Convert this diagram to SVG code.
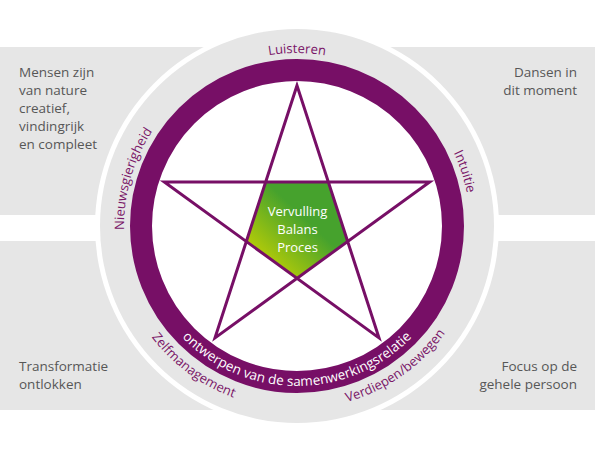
<svg xmlns="http://www.w3.org/2000/svg" width="595" height="454" viewBox="0 0 595 454">
<style>
.side{font-family:"Open Sans","Liberation Sans",sans-serif;font-size:13.5px;fill:#575757}
.lbl{font-family:"Open Sans","Liberation Sans",sans-serif;font-size:13px;fill:#7a1668}
.ring{font-family:"Open Sans","Liberation Sans",sans-serif;font-size:13.5px;fill:#ffffff}
.core{font-family:"Open Sans","Liberation Sans",sans-serif;font-size:13px;fill:#ffffff;text-anchor:middle}
</style>
<defs>
<linearGradient id="g" x1="0" y1="1" x2="1" y2="0">
<stop offset="0.1" stop-color="#cad400"/>
<stop offset="0.6" stop-color="#46a22d"/>
</linearGradient>
<path id="pLuisteren" d="M147.18,139.5 A173,173 0 0 1 446.82,139.5"/>
<path id="pNieuws" d="M172.56,346.18 A173,173 0 0 1 255.15,58.14"/>
<path id="pIntuitie" d="M332.97,56.78 A173,173 0 0 1 425.56,341.76"/>
<path id="pZelf" d="M114.34,237.17 A183,183 0 0 0 339.72,403.95"/>
<path id="pVerd" d="M249.64,402.77 A183,183 0 0 0 479.30,241.95"/>
<path id="pOntw" d="M146.65,280.72 A160,160 0 0 0 447.35,280.72"/>
</defs>
<g id="background">
<rect x="0" y="47" width="595" height="168" fill="#e6e6e6"/>
<rect x="0" y="241" width="595" height="169" fill="#e6e6e6"/>
<circle cx="297" cy="226" r="202" fill="#ffffff"/>
<circle cx="297" cy="226" r="197" fill="#e6e6e6"/>
<circle cx="297" cy="226" r="156" fill="#ffffff" stroke="#770f66" stroke-width="22"/>
</g>
<g id="side-texts">
<text class="side" x="19"><tspan x="19" y="77">Mensen zijn</tspan><tspan x="19" y="95">van nature</tspan><tspan x="19" y="113">creatief,</tspan><tspan x="19" y="131">vindingrijk</tspan><tspan x="19" y="149">en compleet</tspan></text>
<text class="side" text-anchor="end"><tspan x="577" y="77">Dansen in</tspan><tspan x="577" y="95">dit moment</tspan></text>
<text class="side"><tspan x="19" y="371">Transformatie</tspan><tspan x="19" y="389">ontlokken</tspan></text>
<text class="side" text-anchor="end"><tspan x="577" y="371">Focus op de</tspan><tspan x="577" y="389">gehele persoon</tspan></text>
</g>
<g id="center">
<polygon points="297,278.3 246.31,241.47 265.67,181.88 328.33,181.88 347.69,241.47" fill="url(#g)"/>
<text class="core"><tspan x="297.5" y="216">Vervulling</tspan><tspan x="297.5" y="234">Balans</tspan><tspan x="297.5" y="252">Proces</tspan></text>
</g>
<g id="connectors">
<path d="M297,85.5 L215,337.86 L429.67,181.89 L164.33,181.89 L379,337.86 Z" fill="none" stroke="#770f66" stroke-width="3" stroke-linejoin="miter"/>
</g>
<g id="labels">
<text class="lbl" text-anchor="middle"><textPath href="#pLuisteren" startOffset="50%">Luisteren</textPath></text>
<text class="lbl" text-anchor="middle"><textPath href="#pNieuws" startOffset="50%">Nieuwsgierigheid</textPath></text>
<text class="lbl" text-anchor="middle"><textPath href="#pIntuitie" startOffset="50%">Intuitie</textPath></text>
<text class="lbl" text-anchor="middle"><textPath href="#pZelf" startOffset="50%">Zelfmanagement</textPath></text>
<text class="lbl" text-anchor="middle"><textPath href="#pVerd" startOffset="50%">Verdiepen/bewegen</textPath></text>
<text class="ring" text-anchor="middle"><textPath href="#pOntw" startOffset="50%">ontwerpen van de samenwerkingsrelatie</textPath></text>
</g>
</svg>
